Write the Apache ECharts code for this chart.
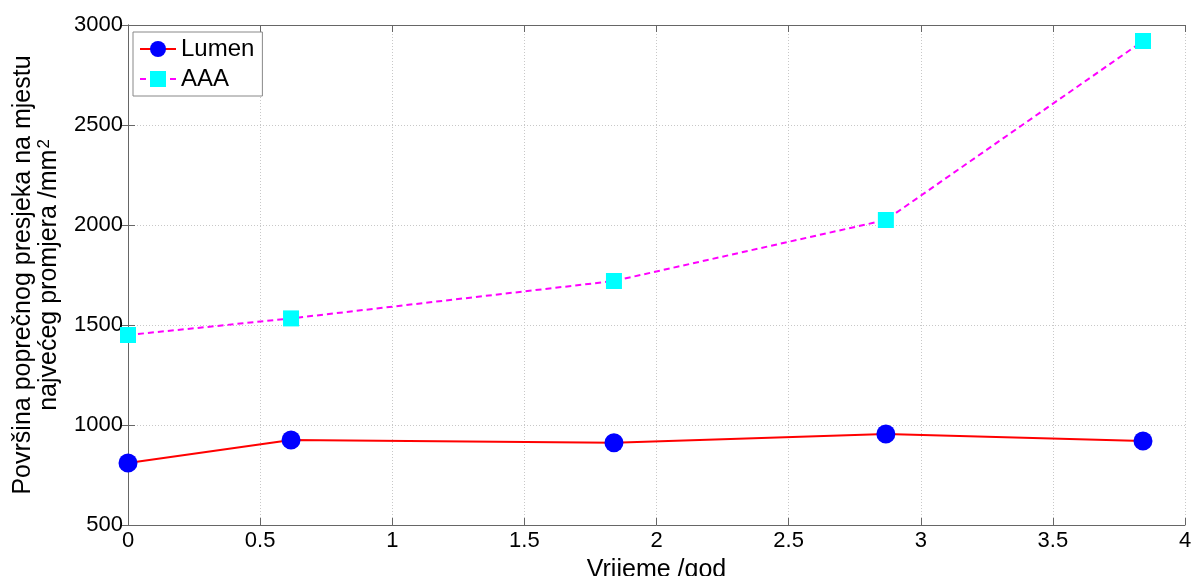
<!DOCTYPE html>
<html>
<head>
<meta charset="utf-8">
<script src="https://cdn.jsdelivr.net/npm/echarts@6/dist/echarts.min.js"></script>
<style>
  html, body { margin: 0; padding: 0; background: #fff; }
  #chart { width: 1192px; height: 576px; }
</style>
</head>
<body>
<div id="chart"></div>
<script>
// Time points (years) and cross-section areas (mm^2)
const timeYears = [0, 0.617, 1.839, 2.868, 3.841];
const lumenArea = [810, 925, 911, 955, 920];
const aaaArea = [1450, 1533, 1720, 2025, 2920];

const xTicks = { min: 0, max: 4, interval: 0.5 };
const yTicks = { min: 500, max: 3000, interval: 500 };

const FONT = 'Liberation Sans, Arial, sans-serif';
const AXIS_COLOR = '#666';
const GRID_COLOR = '#c8c8c8';

const toPairs = (xs, ys) => xs.map((x, i) => [x, ys[i]]);
const plainNumber = v => String(v);

const chart = echarts.init(document.getElementById('chart'), null, { renderer: 'canvas' });

const baseAxis = {
  type: 'value',
  axisLine: { show: true, lineStyle: { color: AXIS_COLOR, width: 1 } },
  axisTick: { show: true, inside: true, length: 7, lineStyle: { color: AXIS_COLOR } },
};

chart.setOption({
  animation: false,
  backgroundColor: '#fff',
  textStyle: { fontFamily: FONT },
  grid: { left: 128, right: 7, top: 25, bottom: 51, containLabel: false, outerBoundsMode: 'none' },
  legend: {
    left: 133, top: 32,
    orient: 'vertical',
    backgroundColor: '#fff',
    borderColor: '#888',
    borderWidth: 1,
    padding: [5, 8, 5, 6],
    itemGap: 6,
    itemWidth: 36,
    itemHeight: 20,
    textStyle: { fontFamily: FONT, fontSize: 24, lineHeight: 24, color: '#000' },
    data: ['Lumen', 'AAA']
  },
  xAxis: [
    Object.assign({}, baseAxis, {
      position: 'bottom',
      min: xTicks.min, max: xTicks.max, interval: xTicks.interval,
      name: 'Vrijeme /god',
      nameLocation: 'middle',
      nameGap: 33,
      nameMoveOverlap: false,
      nameTextStyle: { fontFamily: FONT, fontSize: 25, color: '#000' },
      axisLabel: { fontFamily: FONT, fontSize: 22, color: '#000', margin: 5, formatter: plainNumber },
      splitLine: { show: true, lineStyle: { color: GRID_COLOR, type: [1, 2], width: 1 } }
    }),
    Object.assign({}, baseAxis, {
      position: 'top',
      min: xTicks.min, max: xTicks.max, interval: xTicks.interval,
      axisLabel: { show: false },
      splitLine: { show: false }
    })
  ],
  yAxis: [
    Object.assign({}, baseAxis, {
      position: 'left',
      min: yTicks.min, max: yTicks.max, interval: yTicks.interval,
      name: '{a|Površina poprečnog presjeka na mjestu}\n{a|najvećeg promjera /mm}{sup|2}',
      nameLocation: 'middle',
      nameRotate: 90,
      nameGap: 66,
      nameMoveOverlap: false,
      nameTextStyle: {
        fontFamily: FONT, fontSize: 25, color: '#000', lineHeight: 26,
        rich: {
          a: { fontFamily: FONT, fontSize: 25, color: '#000', lineHeight: 26 },
          sup: { fontFamily: FONT, fontSize: 17, color: '#000', verticalAlign: 'top', lineHeight: 26, padding: [0, 0, 15, 1] }
        }
      },
      axisLabel: { fontFamily: FONT, fontSize: 22, color: '#000', margin: 5, formatter: plainNumber },
      splitLine: { show: true, lineStyle: { color: GRID_COLOR, type: [1, 2], width: 1 } }
    }),
    Object.assign({}, baseAxis, {
      position: 'right',
      min: yTicks.min, max: yTicks.max, interval: yTicks.interval,
      axisLabel: { show: false },
      splitLine: { show: false }
    })
  ],
  series: [
    {
      name: 'Lumen',
      type: 'line',
      data: toPairs(timeYears, lumenArea),
      symbol: 'circle',
      symbolSize: 19,
      itemStyle: { color: '#0000ff' },
      lineStyle: { color: '#ff0000', width: 2 },
      z: 3
    },
    {
      name: 'AAA',
      type: 'line',
      data: toPairs(timeYears, aaaArea),
      symbol: 'rect',
      symbolSize: 16,
      itemStyle: { color: '#00ffff' },
      lineStyle: { color: '#ff00ff', width: 2, type: [6, 4] },
      z: 3
    }
  ]
});
</script>
</body>
</html>
